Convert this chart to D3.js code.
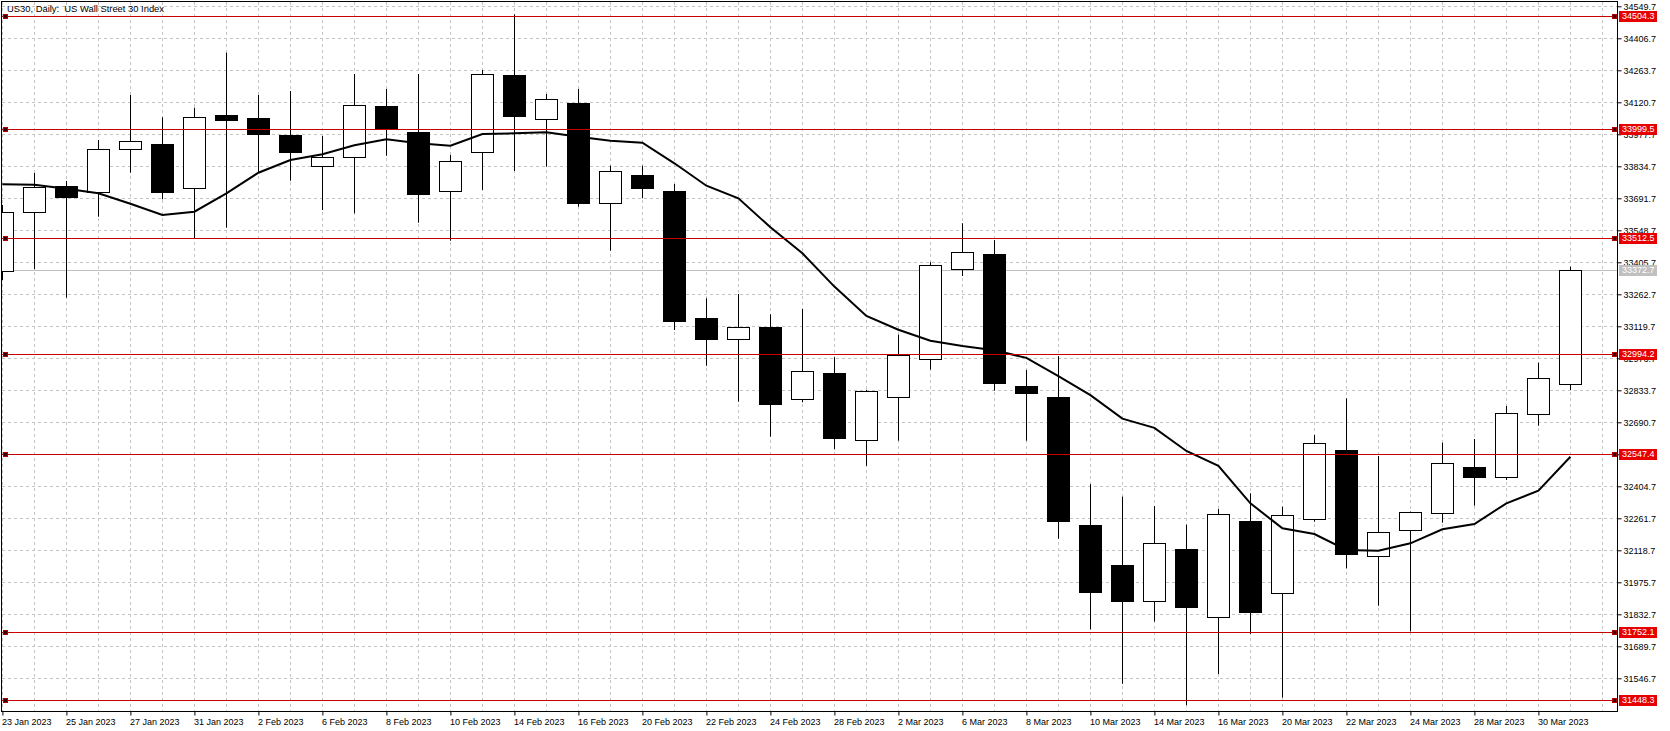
<!DOCTYPE html>
<html>
<head>
<meta charset="utf-8">
<script src="https://cdn.jsdelivr.net/npm/d3@7"></script>
<style>
  body { margin: 0; background: #fff; }
  text { font-family: "Liberation Sans", Arial, sans-serif; }
</style>
</head>
<body>
<div id="chart"></div>
<script>

var title = "US30, Daily:  US Wall Street 30 Index";

var dates = [
  "2023-01-23","2023-01-24","2023-01-25","2023-01-26","2023-01-27","2023-01-30","2023-01-31",
  "2023-02-01","2023-02-02","2023-02-03","2023-02-06","2023-02-07","2023-02-08","2023-02-09","2023-02-10",
  "2023-02-13","2023-02-14","2023-02-15","2023-02-16","2023-02-17","2023-02-20","2023-02-21","2023-02-22",
  "2023-02-23","2023-02-24","2023-02-27","2023-02-28","2023-03-01","2023-03-02","2023-03-03","2023-03-06",
  "2023-03-07","2023-03-08","2023-03-09","2023-03-10","2023-03-13","2023-03-14","2023-03-15","2023-03-16",
  "2023-03-17","2023-03-20","2023-03-21","2023-03-22","2023-03-23","2023-03-24","2023-03-27","2023-03-28",
  "2023-03-29","2023-03-30","2023-03-31"
];

var open = [
  33365.5, 33629.1, 33746.7, 33721.2, 33910.7, 33934.4, 33736.4, 34064.0, 34050.5, 33974.6,
  33834.7, 33874.9, 34104.2, 33988.0, 33725.7, 33897.3, 34242.7, 34044.7, 34116.2, 33669.4,
  33794.5, 33724.3, 33155.5, 33061.6, 33116.6, 32793.5, 32910.8, 32611.6, 32802.9, 32972.5,
  33375.2, 33443.1, 32852.2, 32802.9, 32232.1, 32053.1, 31894.2, 32122.5, 31818.6, 32249.7,
  31926.6, 32257.3, 32565.6, 32091.9, 32208.1, 32284.1, 32489.6, 32444.9, 32726.5, 32860.5
];
var high = [
  33661.8, 33804.8, 33769.0, 33952.2, 34153.3, 34053.7, 34096.6, 34342.4, 34153.3, 34171.2,
  33970.1, 34247.2, 34180.1, 34247.2, 33885.2, 34265.0, 34513.9, 34157.8, 34180.1, 33837.4,
  33837.4, 33755.6, 33244.8, 33264.1, 33173.3, 33197.0, 32981.8, 32836.0, 33082.1, 33406.1,
  33580.4, 33504.8, 32924.7, 32986.4, 32414.1, 32358.6, 32316.9, 32233.6, 32303.0, 32373.4,
  32313.6, 32634.0, 32798.0, 32540.1, 32292.0, 32599.6, 32616.1, 32763.6, 32957.1, 33386.1
];
var low = [
  33326.6, 33374.4, 33247.5, 33609.5, 33806.1, 33687.2, 33513.0, 33560.3, 33806.1, 33770.4,
  33639.4, 33624.7, 33882.1, 33582.7, 33502.2, 33728.8, 33813.7, 33832.9, 33654.2, 33457.5,
  33691.7, 33103.2, 32943.6, 32782.8, 32626.4, 32780.1, 32569.9, 32495.9, 32608.5, 32926.3,
  33344.3, 32832.2, 32608.5, 32170.4, 31764.6, 31522.4, 31800.1, 31426.8, 31565.6, 31745.0,
  31460.5, 32246.5, 32038.3, 31871.2, 31755.9, 32242.1, 32318.0, 32432.9, 32675.5, 32835.1
];
var close = [
  33629.1, 33740.9, 33698.9, 33912.0, 33946.4, 33721.2, 34053.7, 34043.0, 33979.0, 33900.0,
  33874.9, 34107.3, 34007.2, 33712.3, 33857.0, 34245.8, 34060.8, 34134.1, 33672.0, 33812.4,
  33739.1, 33144.7, 33064.3, 33115.2, 32773.8, 32918.6, 32619.3, 32830.6, 32991.1, 33393.7,
  33450.8, 32864.6, 32819.8, 32247.5, 31934.3, 31894.2, 32150.3, 31866.4, 32279.9, 31844.3,
  32275.1, 32596.9, 32100.9, 32199.2, 32288.5, 32507.5, 32447.6, 32730.9, 32887.3, 33372.7
];

// moving average line
var ma = [
  33754.3, 33752.5, 33734.6, 33714.1, 33667.6, 33617.1, 33631.8, 33714.1, 33806.1, 33862.9,
  33888.3, 33928.5, 33955.4, 33937.5, 33926.8, 33979.0, 33982.2, 33986.6, 33967.0, 33949.1,
  33940.2, 33848.1, 33748.0, 33691.7, 33562.1, 33445.9, 33297.1, 33166.2, 33104.5, 33055.4,
  33032.1, 33012.5, 32978.5, 32896.7, 32811.8, 32707.3, 32665.7, 32562.5, 32495.9, 32328.8,
  32217.0, 32191.6, 32120.1, 32116.9, 32150.0, 32212.6, 32236.2, 32328.8, 32385.1, 32537.0
];

var levels = [34504.3, 33999.5, 33512.5, 32994.2, 32547.4, 31752.1, 31448.3];
var bid = 33372.7;

var priceTicks = [
  34549.7, 34406.7, 34263.7, 34120.7, 33977.7, 33834.7, 33691.7, 33548.7, 33405.7, 33262.7, 33119.7,
  32976.7, 32833.7, 32690.7, 32547.7, 32404.7, 32261.7, 32118.7, 31975.7, 31832.7, 31689.7, 31546.7
];

var width = 1670, height = 731;
var plot = {left: 2, top: 2, right: 1617, bottom: 711};

var candles = dates.map(function(d, i) {
  return {date: d, o: open[i], h: high[i], l: low[i], c: close[i], ma: ma[i]};
});

var svg = d3.select("#chart")
  .append("svg")
    .attr("width", width)
    .attr("height", height)
    .style("background", "#fff");

var x = d3.scalePoint().domain(dates).range([2.4, 1570.4]);
var y = d3.scaleLinear().domain([31400.6, 34568.9]).range([plot.bottom, plot.top]);

var px = function(v) { return Math.round(v) + 0.5; };

svg.append("clipPath").attr("id", "plotclip")
  .append("rect")
    .attr("x", plot.left).attr("y", plot.top)
    .attr("width", plot.right - plot.left).attr("height", plot.bottom - plot.top);

var g = svg.append("g").attr("clip-path", "url(#plotclip)");

// grid
var gridX = dates.map(function(d) { return x(d); });
gridX.push(x(dates[dates.length - 1]) + x.step());
g.selectAll(".vgrid").data(gridX).enter().append("line")
  .attr("x1", function(d) { return px(d); }).attr("x2", function(d) { return px(d); })
  .attr("y1", plot.top).attr("y2", plot.bottom)
  .attr("stroke", "#c4c4c4").attr("stroke-dasharray", "3,3");

g.selectAll(".hgrid").data(priceTicks).enter().append("line")
  .attr("x1", plot.left).attr("x2", plot.right)
  .attr("y1", function(d) { return px(y(d)); }).attr("y2", function(d) { return px(y(d)); })
  .attr("stroke", "#c4c4c4").attr("stroke-dasharray", "3,3");

// bid line
g.append("line")
  .attr("x1", plot.left).attr("x2", plot.right)
  .attr("y1", px(y(bid))).attr("y2", px(y(bid)))
  .attr("stroke", "#c0c0c0");

// candles
var c = g.selectAll(".candle").data(candles).enter().append("g");

c.append("line")
  .attr("x1", function(d) { return px(x(d.date)); })
  .attr("x2", function(d) { return px(x(d.date)); })
  .attr("y1", function(d) { return y(d.h); })
  .attr("y2", function(d) { return y(d.l); })
  .attr("stroke", "#000");

c.append("rect")
  .attr("x", function(d) { return px(x(d.date)) - 11; })
  .attr("width", 22)
  .attr("y", function(d) { return Math.round(y(Math.max(d.o, d.c))) + 0.5; })
  .attr("height", function(d) { return Math.max(1, Math.round(y(Math.min(d.o, d.c))) - Math.round(y(Math.max(d.o, d.c)))); })
  .attr("fill", function(d) { return d.c >= d.o ? "#fff" : "#000"; })
  .attr("stroke", "#000");

// moving average
g.append("path")
  .datum(candles)
  .attr("d", d3.line()
    .x(function(d) { return x(d.date); })
    .y(function(d) { return y(d.ma); }))
  .attr("fill", "none")
  .attr("stroke", "#000")
  .attr("stroke-width", 2);

// horizontal levels
g.selectAll(".level").data(levels).enter().append("line")
  .attr("x1", plot.left).attr("x2", plot.right)
  .attr("y1", function(d) { return px(y(d)); }).attr("y2", function(d) { return px(y(d)); })
  .attr("stroke", "#c80000");

levels.forEach(function(v) {
  [3, 1612].forEach(function(mx) {
    svg.append("rect")
      .attr("x", mx + 0.5).attr("y", Math.round(y(v)) - 1.5)
      .attr("width", 4).attr("height", 4)
      .attr("fill", "#3a0000").attr("stroke", "#b00000");
  });
});

// frame
svg.append("rect")
  .attr("x", plot.left - 0.5).attr("y", plot.top - 0.5)
  .attr("width", plot.right - plot.left + 1).attr("height", plot.bottom - plot.top + 1)
  .attr("fill", "none").attr("stroke", "#000");

// title
svg.append("text")
  .attr("x", 7).attr("y", 12)
  .style("white-space", "pre")
  .attr("font-size", "9.4px")
  .text(title);

// y axis
var yAxis = svg.append("g")
  .attr("transform", "translate(" + (plot.right + 0.5) + ",0)")
  .call(d3.axisRight(y).tickValues(priceTicks).tickSize(4).tickPadding(2)
    .tickFormat(d3.format(".1f")));
yAxis.select(".domain").remove();
yAxis.selectAll("text").attr("font-size", "9px").attr("font-family", "Liberation Sans, Arial, sans-serif").attr("fill", "#000");
yAxis.selectAll("line").attr("stroke", "#000");

// x axis
var fmt = d3.timeFormat("%-d %b %Y"), parse = d3.timeParse("%Y-%m-%d");
var xAxis = svg.append("g")
  .attr("transform", "translate(0," + (plot.bottom + 0.5) + ")")
  .call(d3.axisBottom(x)
    .tickValues(dates.filter(function(d, i) { return i % 2 === 0; }))
    .tickSize(4).tickPadding(3)
    .tickFormat(function(d) { return fmt(parse(d)); }));
xAxis.select(".domain").remove();
xAxis.selectAll("text")
  .attr("text-anchor", "start").attr("x", -1)
  .attr("font-size", "9px").attr("font-family", "Liberation Sans, Arial, sans-serif").attr("fill", "#000");
xAxis.selectAll("line").attr("stroke", "#000");

// price labels on the axis
function priceLabel(v, bg) {
  var yy = Math.round(y(v));
  svg.append("rect")
    .attr("x", 1619).attr("y", yy - 5)
    .attr("width", 38).attr("height", 11)
    .attr("fill", bg);
  svg.append("text")
    .attr("x", 1622).attr("y", yy).attr("dy", "0.35em")
    .attr("font-size", "9px").attr("fill", "#fff")
    .text(d3.format(".1f")(v));
}
priceLabel(bid, "#c0c0c0");
levels.forEach(function(v) { priceLabel(v, "#e60000"); });

</script>
</body>
</html>
